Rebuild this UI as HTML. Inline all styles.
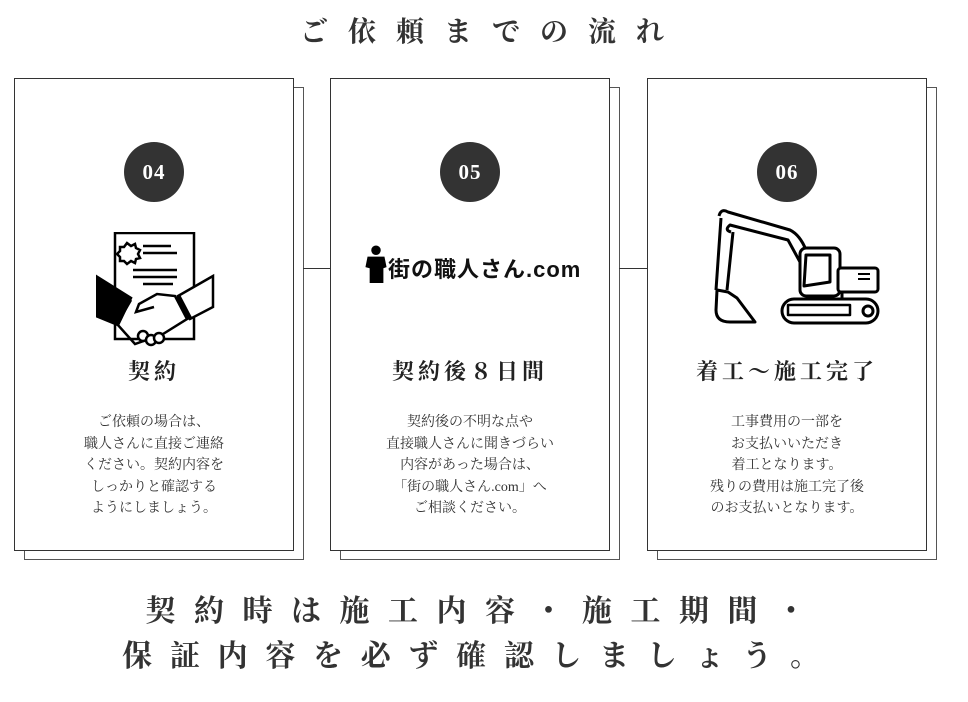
<!DOCTYPE html>
<html><head><meta charset="utf-8"><style>
body{margin:0;width:968px;height:702px;background:#fff;position:relative;overflow:hidden;font-family:"Liberation Serif","Noto Serif CJK SC",serif;color:#333}
.t{position:absolute;left:0;width:968px;text-align:center;font-weight:bold;white-space:nowrap}
.card{position:absolute;top:78px;width:280px;height:473px;border:1px solid #333;background:#fff;box-sizing:border-box}
.sh{position:absolute;top:87px;width:280px;height:473px;border:1px solid #555;box-sizing:border-box;background:#fff}
.circ{position:absolute;left:109px;top:63px;width:60px;height:60px;border-radius:50%;background:#333;color:#fff;font-size:21px;line-height:60px;text-align:center;font-weight:bold;letter-spacing:1px}
.h{position:absolute;left:0;width:100%;top:276px;text-align:center;font-size:22px;font-weight:bold;letter-spacing:4px;color:#222}
.b{position:absolute;left:0;width:100%;top:333px;text-align:center;font-size:14px;line-height:21.5px;color:#333}
.ln{position:absolute;top:268px;height:1px;background:#333}
</style></head><body>
<div class="t" style="top:10px;font-size:28px;letter-spacing:20px;left:8px">ご依頼までの流れ</div>

<div class="sh" style="left:24px"></div>
<div class="sh" style="left:340px"></div>
<div class="sh" style="left:657px"></div>
<div class="ln" style="left:303px;width:27px"></div>
<div class="ln" style="left:619px;width:28px"></div>

<div class="card" style="left:14px">
<div class="circ">04</div>
<svg style="position:absolute;left:81px;top:153px" width="120" height="120" viewBox="0 0 120 120" fill="none" stroke="#000" stroke-width="2.5">
<rect x="19" y="1" width="79" height="106" fill="#fff"/>
<path d="M31 11l4 3 4-2 1 4 4 2-2 4 2 4-4 1-1 4-4-2-4 3-3-3-4 0 0-4-3-3 3-3 0-4 4 0z"/>
<path d="M47 14h28M47 21h34M37 38h44M37 45h44M47 52h30"/>
<path d="M0 44l35 22-13 27L0 84z" fill="#000"/>
<path d="M117 44L82 64l12 23 23-12z" fill="#fff"/>
<path d="M82 64l12 23" stroke-width="5"/>
<path d="M35 68l-14 24 18 20 28-10 24-15-12-23-18-2-18 10-3 8 18-5"/>
<circle cx="47" cy="104" r="5" fill="#fff"/><circle cx="55" cy="108" r="5" fill="#fff"/><circle cx="63" cy="106" r="5" fill="#fff"/>
</svg>
<div class="h">契約</div>
<div class="b">ご依頼の場合は、<br>職人さんに直接ご連絡<br>ください。契約内容を<br>しっかりと確認する<br>ようにしましょう。</div>
</div>

<div class="card" style="left:330px">
<div class="circ">05</div>
<svg style="position:absolute;left:34px;top:166px" width="22" height="38" viewBox="0 0 20 36"><circle cx="10" cy="5" r="4.5"/><path d="M2 11h16l2 10-3 1 0 14H4V22L0 21z"/></svg>
<div style="position:absolute;left:57px;top:173px;font-family:'Liberation Sans','Noto Sans CJK JP',sans-serif;font-size:22px;font-weight:bold;color:#111;letter-spacing:1px">街の職人さん.com</div>
<div class="h">契約後８日間</div>
<div class="b">契約後の不明な点や<br>直接職人さんに聞きづらい<br>内容があった場合は、<br>「街の職人さん.com」へ<br>ご相談ください。</div>
</div>

<div class="card" style="left:647px">
<div class="circ">06</div>
<div class="h">着工〜施工完了</div>
<div class="b">工事費用の一部を<br>お支払いいただき<br>着工となります。<br>残りの費用は施工完了後<br>のお支払いとなります。</div>
</div>

<svg style="position:absolute;left:0;top:0" width="968" height="702" fill="none" stroke="#000" stroke-width="3" stroke-linejoin="round">
<path d="M719 216Q721 208 728 212L790 230Q800 235 806 250"/>
<path d="M731 232Q724 230 730 225L788 240L800 262"/>
<path d="M721 218L716 290M733 232L727 290"/>
<path d="M717 290L716 310Q716 322 730 322L755 322L737 298L728 292Z"/>
<rect x="800" y="248" width="40" height="48" rx="6" fill="#fff"/>
<path d="M806 255h24v27l-26 4z"/>
<rect x="838" y="268" width="40" height="24" rx="3" fill="#fff"/>
<path d="M858 274h12M858 279h12" stroke-width="2"/>
<path d="M815 296v4M842 292v8"/>
<rect x="782" y="299" width="96" height="24" rx="12"/>
<path d="M788 305h62v10h-62z" stroke-width="2.5"/>
<circle cx="868" cy="311" r="5"/>
</svg>

<div class="t" style="top:586px;font-size:30px;letter-spacing:18.5px;left:1px">契約時は施工内容・施工期間・</div>
<div class="t" style="top:631px;font-size:30px;letter-spacing:17.7px;left:-4px">保証内容を必ず確認しましょう。</div>
</body></html>
